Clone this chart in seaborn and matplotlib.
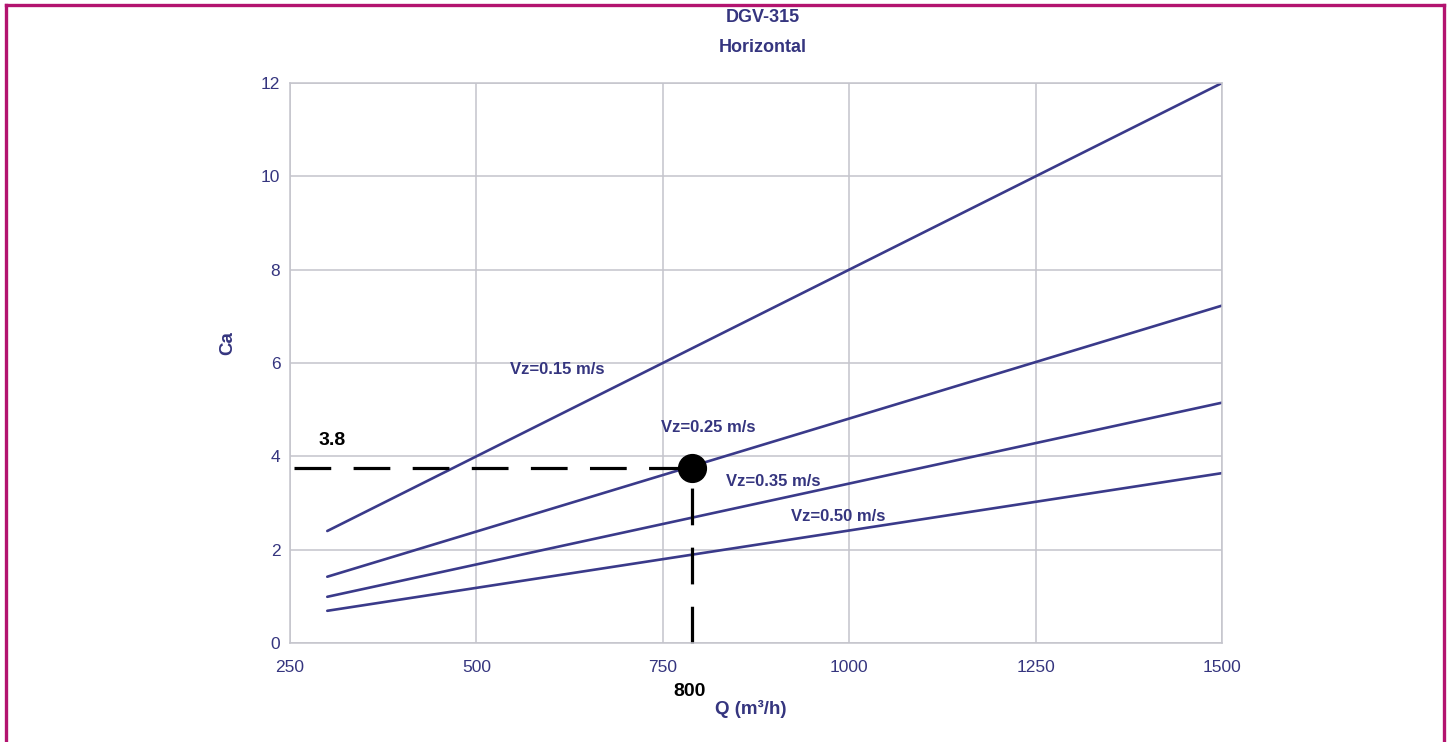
import numpy as np
import pandas as pd
import matplotlib
matplotlib.use("Agg")
import matplotlib.pyplot as plt
from matplotlib.lines import Line2D
import seaborn as sns

# values
Q_ENDS = [300, 1500]
CA_015 = [2.40, 12.00]
CA_025 = [1.42, 7.23]
CA_035 = [0.99, 5.15]
CA_050 = [0.69, 3.64]
SERIES = ["Vz=0.15 m/s", "Vz=0.25 m/s", "Vz=0.35 m/s", "Vz=0.50 m/s"]

X_TICKS = [250, 500, 750, 1000, 1250, 1500]
Y_TICKS = [0, 2, 4, 6, 8, 10, 12]

# operating point marked on the chart
POINT_Q = 789
POINT_CA = 3.75
POINT_Q_LABEL = "800"
POINT_CA_LABEL = "3.8"

NAVY = "#35357f"
LINE_COL = "#3a3a8a"
GRID_COL = "#c4c4cc"
BORDER_COL = "#b3136f"

df = pd.DataFrame({
    "Q": Q_ENDS * 4,
    "Ca": CA_015 + CA_025 + CA_035 + CA_050,
    "serie": [s for s in SERIES for _ in Q_ENDS],
})

sns.set_theme(style="whitegrid")
plt.rcParams["font.family"] = ["Liberation Sans", "DejaVu Sans"]

fig = plt.figure(figsize=(14.49, 7.42), dpi=100)
ax = fig.add_axes([290 / 1449, 1 - 643 / 742, 932 / 1449, 560 / 742])

sns.lineplot(
    data=df, x="Q", y="Ca", hue="serie",
    palette=[LINE_COL] * 4, linewidth=1.9, legend=False, ax=ax,
)

ax.set_xlim(250, 1500)
ax.set_ylim(0, 12)
ax.set_xticks(X_TICKS)
ax.set_yticks(Y_TICKS)
ax.grid(True, color=GRID_COL, linewidth=1.1)
for sp in ax.spines.values():
    sp.set_color(GRID_COL)
    sp.set_linewidth(1.1)
ax.tick_params(axis="x", length=0, pad=12, labelsize=12.5, labelcolor=NAVY)
ax.tick_params(axis="y", length=0, pad=7, labelsize=12.5, labelcolor=NAVY)
ax.set_xlabel("")
ax.set_ylabel("")

# dashed reading lines and the operating point
ax.plot([255, POINT_Q], [POINT_CA, POINT_CA], color="black", linewidth=2.3,
        dashes=(11.5, 7.0))
# drawn from the axis upward so a dash sits on the bottom edge
ax.plot([POINT_Q, POINT_Q], [0, POINT_CA], color="black", linewidth=2.3,
        dashes=(11.5, 7.0), clip_on=False)
ax.scatter([POINT_Q], [POINT_CA], s=400, color="black", zorder=5)

# curve labels
label_pos = [(608, 5.85), (811, 4.61), (898, 3.47), (985, 2.72)]
for name, (qx, cy) in zip(SERIES, label_pos):
    ax.text(qx, cy, name, ha="center", va="center", fontsize=12,
            fontweight="bold", color=NAVY)

ax.text(306, 4.33, POINT_CA_LABEL, ha="center", va="center", fontsize=14,
        fontweight="bold", color="black")
ax.text(786, -1.05, POINT_Q_LABEL, ha="center", va="center",
        fontsize=14, fontweight="bold", color="black", clip_on=False)
ax.text(868, -1.41, "Q (m³/h)", ha="center", va="center", fontsize=13.5,
        fontweight="bold", color=NAVY, clip_on=False)
ax.text(167, 6.43, "Ca", ha="center", va="center", fontsize=13.5,
        fontweight="bold", color=NAVY, rotation=90, clip_on=False)

fig.text(763 / 1449, 1 - 18 / 742, "DGV-315", ha="center", va="center",
         fontsize=13, fontweight="bold", color=NAVY)
fig.text(763 / 1449, 1 - 48 / 742, "Horizontal", ha="center", va="center",
         fontsize=13, fontweight="bold", color=NAVY)

# magenta page frame (open at the bottom)
x0, x1, ytop = 6.5 / 1449, 1443.5 / 1449, 1 - 5 / 742
for xs, ys in [([x0, x0], [0, ytop]), ([x0, x1], [ytop, ytop]), ([x1, x1], [ytop, 0])]:
    fig.add_artist(Line2D(xs, ys, transform=fig.transFigure, color=BORDER_COL,
                          linewidth=2.4, solid_capstyle="projecting"))

fig.savefig("out.png", dpi=100)
plt.close(fig)
